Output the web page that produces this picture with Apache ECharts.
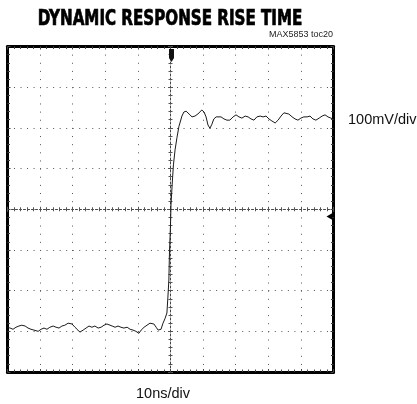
<!DOCTYPE html>
<html>
<head>
<meta charset="utf-8">
<script src="https://cdn.jsdelivr.net/npm/echarts@6/dist/echarts.min.js"></script>
<style>
html,body{margin:0;padding:0;background:#fff;}
#chart{width:417px;height:404px;}
</style>
</head>
<body>
<div id="chart"></div>
<script>
// ---- data ----
const titleText = 'DYNAMIC RESPONSE RISE TIME';
const noteText = 'MAX5853 toc20';
const xScaleText = '10ns/div';
const yScaleText = '100mV/div';

// time in ns (10 ns/div, trigger at 0)
const timeNs = [
  -50,-49.2,-48.3,-47.4,-46.5,-45.6,-44.6,-43.7,-42.8,-41.9,-40.6,-39.7,-38.8,-37.9,-37.0,-36.0,-35.1,-34.2,-33.3,-32.4,
  -31.4,-30.8,-30.2,-29.3,-28.4,-27.8,-26.8,-25.9,-25.0,-24.1,-23.2,-22.2,-21.3,-20.4,-19.5,-18.9,-17.9,-17.0,-16.1,-15.2,
  -14.3,-13.3,-12.4,-11.5,-10.6,-9.7,-9.0,-8.1,-7.2,-6.3,-5.7,-5.1,-4.4,-3.8,-3.2,-2.9,
  -2.3,-1.7,-1.1,-0.8,-0.5,-0.3,0,0.15,0.5,0.9,1.4,2.0,2.6,3.5,
  4.1,4.8,5.7,6.6,7.5,8.4,9.0,9.6,10.3,10.9,11.5,12.1,12.7,13.3,14.0,14.6,15.5,16.4,17.3,18.2,
  19.2,20.1,21.0,21.9,22.9,23.8,24.7,25.6,26.5,27.5,28.4,29.3,30.2,31.1,32.1,33.0,33.9,34.8,35.4,36.3,
  37.3,38.2,39.1,40.0,40.9,41.9,42.8,43.7,44.6,45.6,46.5,47.4,48.3,49.2,49.8
];
// output in mV (100 mV/div)
const voltsMv = [
  -290,-292,-295,-290,-287,-285,-287,-292,-295,-297,-300,-295,-292,-295,-290,-287,-290,-292,-287,-285,
  -280,-277,-282,-290,-297,-302,-297,-292,-287,-290,-287,-292,-290,-285,-282,-280,-287,-290,-287,-290,
  -292,-290,-295,-297,-300,-305,-297,-290,-285,-280,-277,-282,-290,-297,-300,-295,
  -280,-269,-255,-216,-174,-101,-39,10,60,109,146,177,204,229,
  239,241,234,227,229,234,239,244,239,227,207,199,209,222,227,229,227,222,219,219,
  227,232,227,224,229,227,222,219,227,229,227,229,222,217,212,219,229,237,239,234,
  227,222,219,224,227,227,229,222,219,224,229,232,227,224,222
];

const xMin = -50, xMax = 50, xStep = 10;
const yMin = -400, yMax = 400, yStep = 100;
const triggerPoint = [0, 400];
const refPoint = [50, -18];

const chart = echarts.init(document.getElementById('chart'), null, {renderer: 'canvas'});

const frameLine = {onZero: false, lineStyle: {color: '#000', width: 3}};
const frameTick = {show: true, inside: true, length: 3, lineStyle: {color: '#444', width: 1}};
const frameMinor = {show: true, splitNumber: 5, length: 2.5, lineStyle: {color: '#444', width: 1}};
const centerLine = {show: true, onZero: true, lineStyle: {color: '#444', width: 1, type: [2, 2]}};
const centerTick = {show: true, inside: true, length: 2.5, lineStyle: {color: '#555', width: 1}};
const centerMinor = {show: true, splitNumber: 5, length: 2, lineStyle: {color: '#555', width: 1}};
const noLabel = {show: false};

function xAx(extra) {
  return Object.assign({type: 'value', min: xMin, max: xMax, interval: xStep,
    axisLabel: noLabel, splitLine: {show: false}}, extra);
}
function yAx(extra) {
  return Object.assign({type: 'value', min: yMin, max: yMax, interval: yStep,
    axisLabel: noLabel, splitLine: {show: false}}, extra);
}

const option = {
  animation: false,
  backgroundColor: '#fff',
  grid: {left: 7.5, top: 46.5, right: 83.5, bottom: 32},
  xAxis: [
    xAx({position: 'bottom', axisLine: frameLine, axisTick: frameTick, minorTick: frameMinor,
      splitLine: {show: true, lineStyle: {color: '#555', width: 1, type: [1, 7.14]}}}),
    xAx({position: 'top', axisLine: frameLine, axisTick: frameTick, minorTick: frameMinor}),
    xAx({position: 'bottom', axisLine: centerLine, axisTick: centerTick, minorTick: centerMinor}),
    xAx({position: 'top', axisLine: {show: false, onZero: true}, axisTick: centerTick, minorTick: centerMinor})
  ],
  yAxis: [
    yAx({position: 'left', axisLine: frameLine, axisTick: frameTick, minorTick: frameMinor,
      splitLine: {show: true, lineStyle: {color: '#555', width: 1, type: [1, 5.52]}}}),
    yAx({position: 'right', axisLine: frameLine, axisTick: frameTick, minorTick: frameMinor}),
    yAx({position: 'left', axisLine: centerLine, axisTick: centerTick, minorTick: centerMinor}),
    yAx({position: 'right', axisLine: {show: false, onZero: true}, axisTick: centerTick, minorTick: centerMinor})
  ],
  graphic: [
    {type: 'text', x: 170, y: 19.5, scaleX: 0.8, z: 10,
      style: {text: titleText, font: 'bold 21px "Liberation Sans Narrow", "DejaVu Sans Condensed", sans-serif',
        fill: '#000', stroke: '#000', lineWidth: 0.7, align: 'center', verticalAlign: 'middle'}},
    {type: 'text', x: 333, y: 35, z: 10,
      style: {text: noteText, font: '9px "Liberation Sans", sans-serif', fill: '#222',
        align: 'right', verticalAlign: 'middle'}},
    {type: 'text', x: 348, y: 120, z: 10,
      style: {text: yScaleText, font: '14.5px "Liberation Sans", sans-serif', fill: '#111',
        align: 'left', verticalAlign: 'middle'}},
    {type: 'text', x: 163, y: 394, z: 10,
      style: {text: xScaleText, font: '14.5px "Liberation Sans", sans-serif', fill: '#111',
        align: 'center', verticalAlign: 'middle'}}
  ],
  series: [{
    type: 'line',
    xAxisIndex: 0,
    yAxisIndex: 0,
    data: timeNs.map((t, i) => [t, voltsMv[i]]),
    showSymbol: false,
    silent: true,
    lineStyle: {color: '#1a1a1a', width: 1},
    markPoint: {
      silent: true,
      label: {show: false},
      data: [
        {coord: triggerPoint, symbol: 'path://M0,0 L10,0 L10,14 L5,20 L0,14 Z',
          symbolSize: [5, 13], symbolOffset: [1, 9], itemStyle: {color: '#111'}},
        {coord: refPoint, symbol: 'triangle', symbolRotate: 90,
          symbolSize: [7, 6], symbolOffset: [-4, 0], itemStyle: {color: '#000'}}
      ]
    }
  }]
};
chart.setOption(option);
</script>
</body>
</html>
